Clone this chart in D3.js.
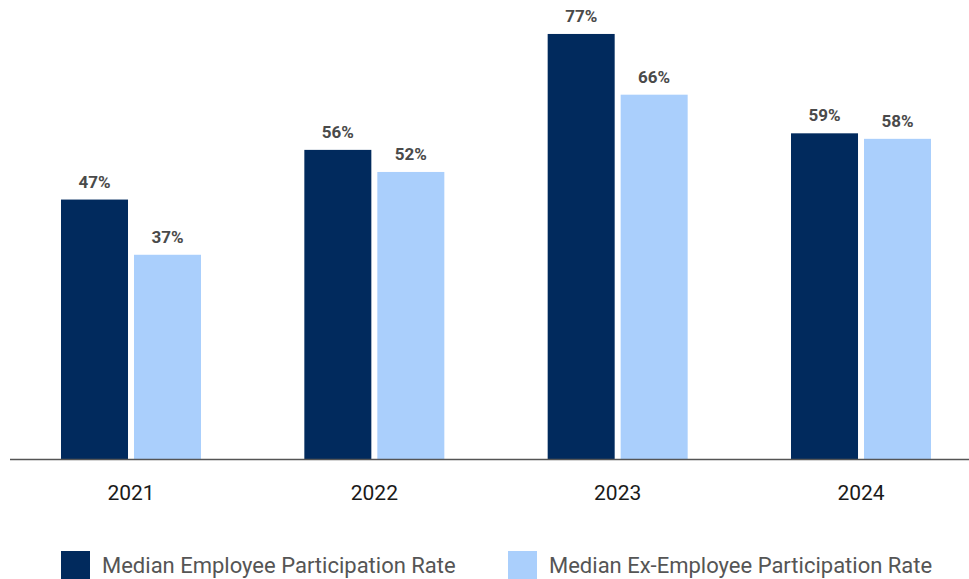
<!DOCTYPE html>
<html>
<head>
<meta charset="utf-8">
<script src="https://cdn.jsdelivr.net/npm/d3@7"></script>
<style>
  body { margin: 0; background: #fff; }
  svg { display: block; font-family: Roboto, "Noto Sans", sans-serif; }
</style>
</head>
<body>
<svg width="969" height="579"></svg>
<script>
var years = ["2021", "2022", "2023", "2024"];
var seriesNames = ["Median Employee Participation Rate", "Median Ex-Employee Participation Rate"];
var employee = [47, 56, 77, 59];
var exEmployee = [37, 52, 66, 58];
var colors = ["#012a5d", "#aacffc"];

var svg = d3.select("svg"),
    width = +svg.attr("width"),
    height = +svg.attr("height");

var baseY = 459;

var x = d3.scaleBand()
    .domain(years)
    .range([61, 931])
    .paddingInner(0.4247)
    .paddingOuter(0);

var x1 = d3.scaleBand()
    .domain([0, 1])
    .range([0, x.bandwidth()])
    .paddingInner(0.082);

var y = d3.scaleLinear()
    .domain([0, 100])
    .range([baseY, baseY - 552]);

var series = [employee, exEmployee];

// bars
var groups = svg.selectAll("g.year")
    .data(years)
    .enter()
    .append("g")
    .attr("class", "year")
    .attr("transform", function(d) { return "translate(" + x(d) + ",0)"; });

groups.selectAll("rect")
    .data(function(d, i) { return series.map(function(s, k) { return {k: k, v: s[i]}; }); })
    .enter()
    .append("rect")
    .attr("x", function(d) { return x1(d.k); })
    .attr("y", function(d) { return y(d.v); })
    .attr("width", x1.bandwidth())
    .attr("height", function(d) { return baseY - y(d.v); })
    .attr("fill", function(d) { return colors[d.k]; });

groups.selectAll("text.val")
    .data(function(d, i) { return series.map(function(s, k) { return {k: k, v: s[i]}; }); })
    .enter()
    .append("text")
    .attr("class", "val")
    .attr("x", function(d) { return x1(d.k) + x1.bandwidth() / 2; })
    .attr("y", function(d) { return y(d.v) - 12; })
    .attr("text-anchor", "middle")
    .attr("font-size", 17)
    .attr("font-weight", "bold")
    .attr("fill", "#4a4a4a")
    .text(function(d) { return d.v + "%"; });

// axis
var xAxis = svg.append("g")
    .attr("transform", "translate(0," + baseY + ")")
    .call(d3.axisBottom(x).tickSize(0).tickPadding(26));

xAxis.select(".domain")
    .attr("d", "M10,0.5H969")
    .attr("stroke", "#555")
    .attr("stroke-width", 1.3);

xAxis.selectAll(".tick text")
    .attr("font-size", 21)
    .attr("font-family", "Roboto, sans-serif")
    .attr("fill", "#1a1a1a");

// legend
var legendX = [61, 508];
var legend = svg.selectAll("g.legend")
    .data(seriesNames)
    .enter()
    .append("g")
    .attr("class", "legend")
    .attr("transform", function(d, i) { return "translate(" + legendX[i] + ",551)"; });

legend.append("rect")
    .attr("width", 29)
    .attr("height", 29)
    .attr("fill", function(d, i) { return colors[i]; });

legend.append("text")
    .attr("x", 41)
    .attr("y", 22)
    .attr("font-size", 22)
    .attr("fill", "#555")
    .text(function(d) { return d; });
</script>
</body>
</html>
